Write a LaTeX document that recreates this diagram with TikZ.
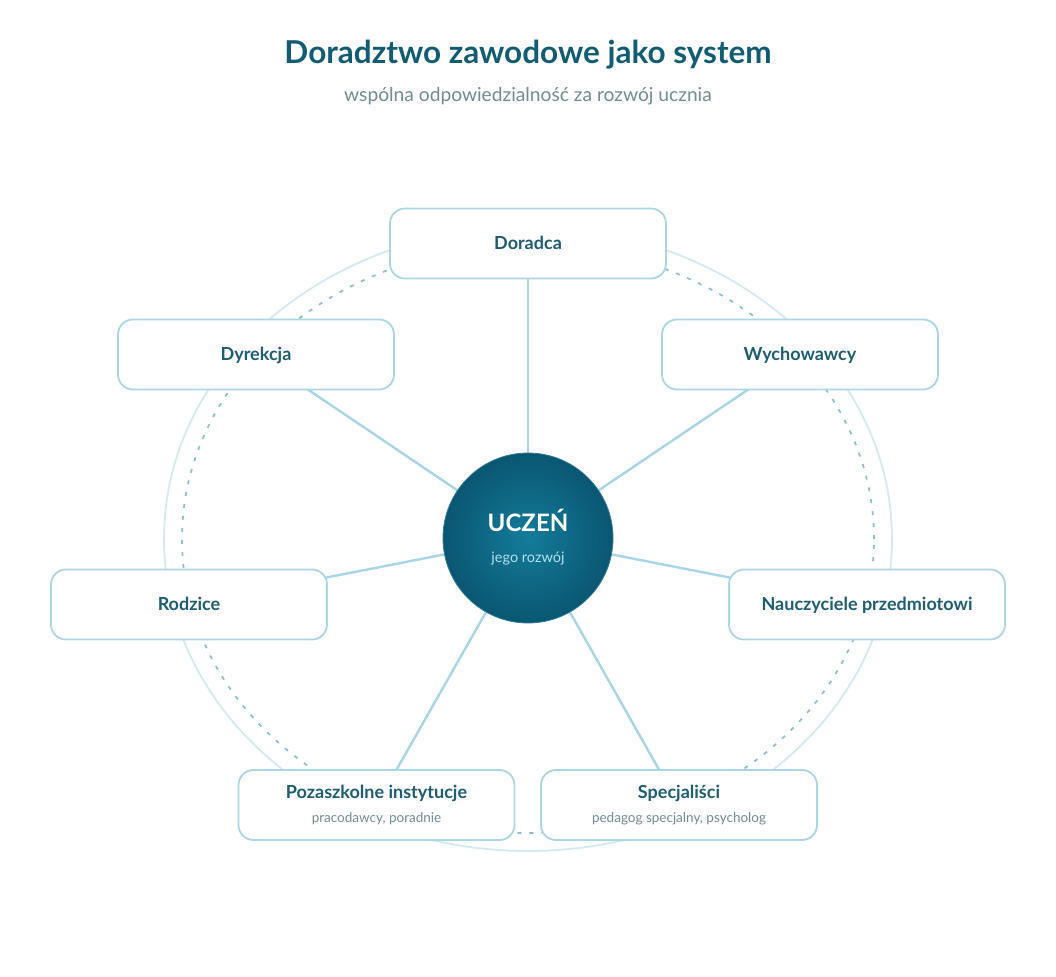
\documentclass[tikz,border=0pt]{standalone}
\usepackage{fontspec}
\setmainfont{Lato}
\usepackage{tikz}
\usetikzlibrary{backgrounds}
\definecolor{titleteal}{HTML}{135D74}
\definecolor{boxtext}{HTML}{1D5E74}
\definecolor{subgray}{HTML}{738C95}
\definecolor{boxline}{HTML}{ABD6E4}
\definecolor{linkblue}{HTML}{A9D6E6}
\definecolor{ringsolid}{HTML}{D3EAF1}
\definecolor{ringdash}{HTML}{86C0D2}
\definecolor{ballhi}{HTML}{137C9A}
\definecolor{balllo}{HTML}{0A5672}
\definecolor{ballrim}{HTML}{2F7E98}
\definecolor{balltext}{HTML}{B4E1EE}

\begin{document}
\begin{tikzpicture}[x=1pt,y=-1pt,
		box/.style={draw=boxline, line width=1.8pt, fill=white, rounded corners=15pt, minimum width=276pt, minimum height=70pt, inner sep=0pt, text=boxtext, font=\bfseries\fontsize{18}{22}\selectfont},
		onebox/.style={box, text height=12.9pt, text depth=0pt},
		twobox/.style={box, align=center},
		link/.style={draw=linkblue, line width=2.4pt}]
			\useasboundingbox (0,0) rectangle (1056,976);
			\node[anchor=base, text=titleteal, font=\bfseries\fontsize{31.5}{38}\selectfont] (title) at (528,64) {Doradztwo zawodowe jako system};
			\node[anchor=base, text=subgray, font=\fontsize{19.2}{23}\selectfont] (subtitle) at (528,102) {wspólna odpowiedzialność za rozwój ucznia};

			\node[circle, minimum size=170pt, inner sep=0pt, inner color=ballhi, outer color=balllo, draw=ballrim, line width=0.8pt] (uczen) at (528,538) {};
			\node[anchor=base, text=white, font=\bfseries\fontsize{24}{28}\selectfont] (uczenname) at (528,531) {UCZEŃ};
			\node[anchor=base, text=balltext, font=\fontsize{14.5}{17}\selectfont] (uczensub) at (528,562) {jego rozwój};

			\node[onebox] (doradca) at (528,243.5) {Doradca};
			\node[onebox] (dyrekcja) at (256,354.5) {Dyrekcja};
			\node[onebox] (wychowawcy) at (800,354.5) {Wychowawcy};
			\node[onebox] (rodzice) at (189,604.5) {Rodzice};
			\node[onebox] (nauczyciele) at (867,604.5) {Nauczyciele przedmiotowi};
			\node[twobox] (pozaszkolne) at (376.5,805) {Pozaszkolne instytucje\\[2pt]{\mdseries\fontsize{13.5}{16}\selectfont\color{subgray}pracodawcy, poradnie}};
			\node[twobox] (specjalisci) at (679,805) {Specjaliści\\[2pt]{\mdseries\fontsize{13.5}{16}\selectfont\color{subgray}pedagog specjalny, psycholog}};

			\begin{scope}[on background layer]
				\draw[ringsolid, line width=1.8pt] (528,539) ellipse [x radius=364pt, y radius=312pt];
				\draw[ringdash, line width=1.7pt, dash pattern=on 4pt off 8pt] (528,539) ellipse [x radius=346pt, y radius=294pt];
				\foreach \who in {doradca,dyrekcja,wychowawcy,rodzice,nauczyciele,pozaszkolne,specjalisci}
					\draw[link] (uczen.center) -- (\who.center);
			\end{scope}
		\end{tikzpicture}
\end{document}
